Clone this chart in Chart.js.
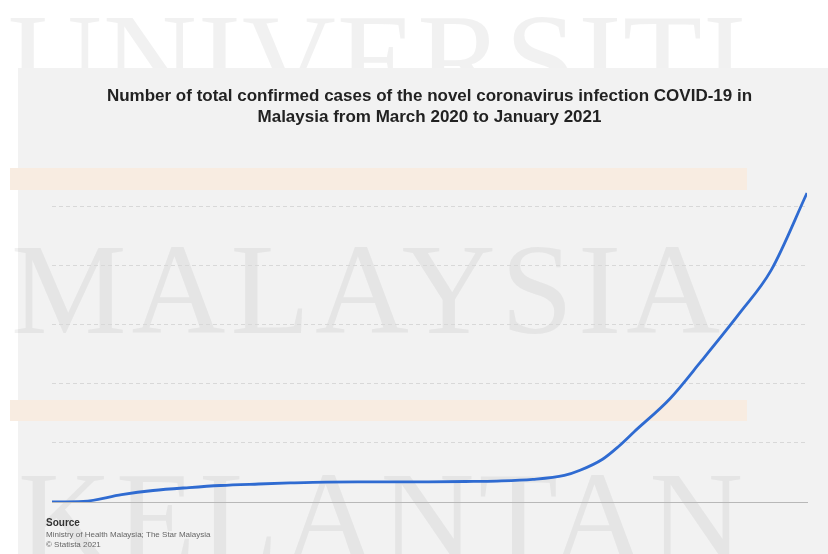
<!DOCTYPE html>
<html>
<head>
<meta charset="utf-8">
<script src="https://cdn.jsdelivr.net/npm/chart.js@4.4.1/dist/chart.umd.min.js"></script>
<style>
  html, body { margin: 0; padding: 0; background: #fff; }
  #wrap { position: relative; width: 828px; height: 554px; }
</style>
</head>
<body>
<div id="wrap"><canvas id="chartCasos" width="828" height="554"></canvas></div>
<script>
// Datas (categorias) e casos totais confirmados
const dates = ['2020-03-01', '2020-03-15', '2020-04-01', '2020-04-15', '2020-05-01', '2020-05-15',
    '2020-06-01', '2020-06-15', '2020-07-01', '2020-07-15', '2020-08-01', '2020-08-15',
    '2020-09-01', '2020-09-15', '2020-10-01', '2020-10-15', '2020-10-22', '2020-11-01',
    '2020-11-08', '2020-11-15', '2020-12-01', '2020-12-15', '2021-01-01', '2021-01-15', '2021-01-31'];
const cases = [0, 400, 5000, 7800, 9800, 11200,
    12200, 12900, 13500, 13600, 13600, 13700,
    13900, 14200, 15300, 18000, 21500, 29000,
    37500, 47500, 70000, 95600, 128000, 157000, 209500];
const yTicks = [0, 40000, 80000, 120000, 160000, 200000];

const titleLines = ['Number of total confirmed cases of the novel coronavirus infection COVID-19 in',
    'Malaysia from March 2020 to January 2021'];
const sourceLines = ['Source', 'Ministry of Health Malaysia; The Star Malaysia', '\u00a9 Statista 2021'];

document.addEventListener('DOMContentLoaded', () => {
    renderChartCasos();
});

function dayIndex(d) {
    return Math.round((new Date(d + 'T00:00:00Z') - new Date(dates[0] + 'T00:00:00Z')) / 86400000);
}

// Fundo, faixas e marca d'água
const fundoPlugin = {
    id: 'fundo',
    beforeDraw(chart) {
        const ctx = chart.ctx;
        ctx.save();
        ctx.fillStyle = '#ffffff';
        ctx.fillRect(0, 0, chart.width, chart.height);
        ctx.fillStyle = '#f2f2f2';
        ctx.fillRect(18, 68, chart.width - 18, chart.height - 68);
        ctx.fillStyle = '#f8ece1';
        ctx.fillRect(10, 168, 737, 22);
        ctx.fillRect(10, 400, 737, 21);

        ctx.fillStyle = 'rgba(120,120,120,0.1)';
        ctx.font = '130px "Liberation Serif"';
        ctx.textBaseline = 'alphabetic';
        ctx.textAlign = 'left';
        ctx.save();
        ctx.beginPath();
        ctx.rect(0, 0, chart.width, 68);
        ctx.clip();
        ctx.letterSpacing = '1px';
        ctx.fillText('UNIVERSITI', 8, 103);
        ctx.restore();
        ctx.letterSpacing = '5px';
        ctx.fillText('MALAYSIA', 11, 333);
        ctx.letterSpacing = '4px';
        ctx.fillText('KELANTAN', 18, 561);
        ctx.restore();
    },
    afterDraw(chart) {
        const ctx = chart.ctx;
        ctx.save();
        ctx.textAlign = 'left';
        ctx.textBaseline = 'middle';
        ctx.fillStyle = '#333';
        ctx.font = 'bold 10px "Liberation Sans"';
        ctx.fillText(sourceLines[0], 46, 523);
        ctx.fillStyle = '#666';
        ctx.font = '8px "Liberation Sans"';
        ctx.fillText(sourceLines[1], 46, 535);
        ctx.fillText(sourceLines[2], 46, 545);
        ctx.restore();
    }
};

function renderChartCasos() {
    const ctx = document.getElementById('chartCasos').getContext('2d');
    const pontos = dates.map((d, i) => ({ x: dayIndex(d), y: cases[i] }));

    new Chart(ctx, {
        type: 'line',
        data: {
            datasets: [{
                label: 'Total confirmed cases',
                data: pontos,
                borderColor: '#2f6bd1',
                borderWidth: 2.8,
                pointRadius: 0,
                fill: false,
                cubicInterpolationMode: 'monotone'
            }]
        },
        options: {
            responsive: false,
            animation: false,
            layout: { padding: { top: 86, left: 52, right: 21, bottom: 52 } },
            plugins: {
                legend: { display: false },
                tooltip: { enabled: false },
                title: {
                    display: true,
                    text: titleLines,
                    color: '#222',
                    font: { family: '"Liberation Sans", Arial, sans-serif', size: 17, weight: 'bold', lineHeight: 1.22 },
                    padding: { top: 0, bottom: 50 }
                }
            },
            scales: {
                x: {
                    type: 'linear',
                    min: 0,
                    max: dayIndex(dates[dates.length - 1]),
                    ticks: { display: false },
                    grid: { display: false, drawTicks: false },
                    border: { display: true, color: '#b8b8b8', width: 1 }
                },
                y: {
                    min: 0,
                    max: 220000,
                    afterBuildTicks: (axis) => { axis.ticks = yTicks.map(v => ({ value: v })); },
                    ticks: { display: false },
                    grid: {
                        drawTicks: false,
                        color: (c) => c.tick && c.tick.value === 0 ? 'rgba(0,0,0,0)' : '#d8d8d8',
                        lineWidth: 1
                    },
                    border: { display: false, dash: [4, 3] }
                }
            }
        },
        plugins: [fundoPlugin]
    });
}
</script>
</body>
</html>
